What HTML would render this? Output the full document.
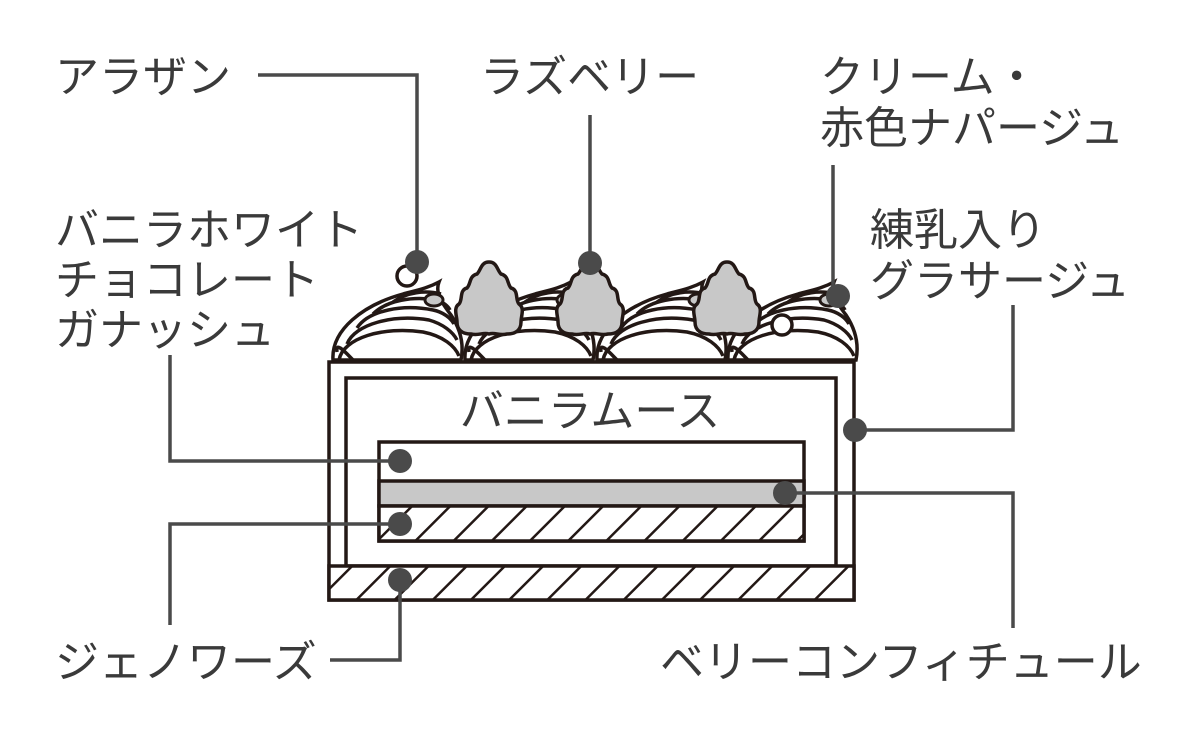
<!DOCTYPE html>
<html><head><meta charset="utf-8"><style>
html,body{margin:0;padding:0;background:#fff;}
svg{display:block}
text{font-family:"Liberation Sans","Noto Sans CJK JP",sans-serif;font-size:44px;fill:#3a3a3a;}
</style></head><body>
<svg width="1200" height="752" viewBox="0 0 1200 752" xmlns="http://www.w3.org/2000/svg">
<defs>
<pattern id="h" patternUnits="userSpaceOnUse" width="27" height="27" patternTransform="rotate(45)">
<rect width="27" height="27" fill="#fff"/>
<line x1="0" y1="0" x2="0" y2="27" stroke="#231815" stroke-width="5"/>
</pattern>
<g id="sw" fill="none" stroke="#231815" stroke-width="3.5">
<path d="M0,0 C-2,-30 30,-55 70,-66 C85,-70 95,-72 106,-78 C102,-68 108,-58 118,-45 C128,-30 131,-15 128,0 Z" fill="#fff"/>
<path d="M6,0 C10,-22 50,-34 90,-28 C110,-24 122,-14 126,-4"/>
<path d="M14,-16 C22,-36 60,-46 96,-40 C110,-36 120,-28 124,-20"/>
<path d="M24,-32 C36,-50 70,-56 100,-50 C110,-48 118,-42 121,-36"/>
<path d="M40,-46 C54,-60 80,-64 104,-60 C110,-58 115,-54 117,-50"/>
<path d="M60,-58 C74,-68 92,-70 108,-66"/>
<path d="M4,-8 C2,-20 14,-6 20,0"/>
<ellipse cx="101" cy="-60" rx="9" ry="6" fill="#c8c8c8" stroke-width="3"/>
</g>
<g id="rb">
<path d="M0,-70 C8,-70 8,-62 12,-58 C20,-56 18,-48 22,-44 C30,-42 26,-32 30,-28 C36,-24 32,-16 32,-10 C32,0 24,2 18,2 C10,4 6,0 0,2 C-6,0 -10,4 -18,2 C-24,2 -32,0 -32,-10 C-32,-16 -36,-24 -30,-28 C-26,-32 -30,-42 -22,-44 C-18,-48 -20,-56 -12,-58 C-8,-62 -8,-70 0,-70 Z" fill="#c8c8c8" stroke="#231815" stroke-width="3.5"/>
</g>
</defs>

<use href="#sw" x="333" y="360"/>
<use href="#sw" x="465" y="360"/>
<use href="#sw" x="597" y="360"/>
<use href="#sw" x="728" y="360"/>
<circle cx="407" cy="276" r="10" fill="#fff" stroke="#231815" stroke-width="3.5"/>
<circle cx="782" cy="325" r="10" fill="#fff" stroke="#231815" stroke-width="3.5"/>
<use href="#rb" x="489" y="332"/>
<use href="#rb" x="590" y="332"/>
<use href="#rb" x="727" y="332"/>

<rect x="329" y="362" width="525" height="238" fill="#fff" stroke="#231815" stroke-width="3.5"/>
<rect x="346" y="378" width="490" height="188" fill="#fff" stroke="#231815" stroke-width="3.5"/>
<rect x="329" y="566" width="525" height="34" fill="url(#h)" stroke="#231815" stroke-width="3.5"/>
<rect x="379" y="442" width="425" height="99" fill="#fff" stroke="#231815" stroke-width="3.5"/>
<rect x="379" y="481" width="425" height="25" fill="#c8c8c8" stroke="#231815" stroke-width="3.5"/>
<rect x="379" y="506" width="425" height="35" fill="url(#h)" stroke="#231815" stroke-width="3.5"/>
<text x="590" y="426" text-anchor="middle">バニラムース</text>

<g fill="none" stroke="#4a4a4a" stroke-width="3.5">
<polyline points="258,75 417,75 417,262"/>
<line x1="590" y1="115" x2="590" y2="262"/>
<polyline points="833,165 833,296"/>
<polyline points="1013,305 1013,430 855,430"/>
<polyline points="170,355 170,461 400,461"/>
<polyline points="170,625 170,524 400,524"/>
<polyline points="330,660 400,660 400,580"/>
<polyline points="785,493 1013,493 1013,628"/>
</g>
<g fill="#4a4a4a">
<circle cx="417" cy="262" r="12"/>
<circle cx="590" cy="263" r="12"/>
<circle cx="838" cy="296" r="12"/>
<circle cx="855" cy="430" r="12"/>
<circle cx="400" cy="461" r="12"/>
<circle cx="400" cy="524" r="12"/>
<circle cx="400" cy="580" r="12"/>
<circle cx="785" cy="493" r="12"/>
</g>

<text x="55" y="92">アラザン</text>
<text x="480" y="92">ラズベリー</text>
<text x="820" y="92">クリーム・</text>
<text x="820" y="143">赤色ナパージュ</text>
<text x="870" y="245">練乳入り</text>
<text x="870" y="296">グラサージュ</text>
<text x="55" y="245">バニラホワイト</text>
<text x="55" y="295">チョコレート</text>
<text x="55" y="345">ガナッシュ</text>
<text x="55" y="677">ジェノワーズ</text>
<text x="660" y="677">ベリーコンフィチュール</text>
</svg>
</body></html>
